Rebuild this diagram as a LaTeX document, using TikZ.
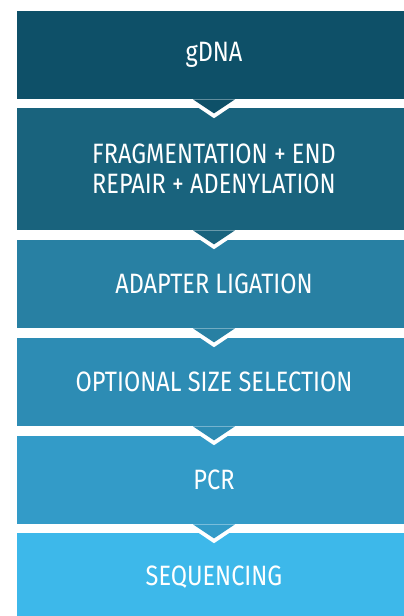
\documentclass[tikz,border=0pt]{standalone}
\usepackage{fontspec}
\setmainfont{Fira Sans}[FakeStretch=0.84]
\usepackage{xcolor}
\usepackage{tikz}

\definecolor{stepA}{RGB}{14,80,104}
\definecolor{stepB}{RGB}{25,99,125}
\definecolor{stepC}{RGB}{40,128,163}
\definecolor{stepD}{RGB}{45,140,180}
\definecolor{stepE}{RGB}{51,155,200}
\definecolor{stepF}{RGB}{61,184,234}

\begin{document}
\begin{tikzpicture}[x=0.5pt, y=-0.5pt,
    box/.style={rectangle, inner sep=0pt, minimum width=197pt, minimum height=44pt,
        text=white, align=center, font=\fontsize{14}{15}\selectfont}]
    \useasboundingbox (0,0) rectangle (403,616);
    \node[box, fill=stepA] (gdna) at (214,55) {gDNA};
    \node[box, fill=stepB, minimum height=61pt] (frag) at (214,169) {FRAGMENTATION + END\\REPAIR + ADENYLATION};
    \node[box, fill=stepC] (adapter) at (214,284) {ADAPTER LIGATION};
    \node[box, fill=stepD] (sizesel) at (214,382) {OPTIONAL SIZE SELECTION};
    \node[box, fill=stepE] (pcr) at (214,480) {PCR};
    \node[box, fill=stepF] (seq) at (214,577) {SEQUENCING};
    % chevrons between the steps
    \foreach \n/\c in {gdna/stepA, frag/stepB, adapter/stepC, sizesel/stepD, pcr/stepE} {
        \fill[white] (\n.south) ++(-28,0) -- ++(28,18.8) -- ++(28,-18.8) -- cycle;
        \fill[\c] (\n.south) ++(-21,0) -- ++(21,14) -- ++(21,-14) -- cycle;
    }
\end{tikzpicture}
\end{document}
